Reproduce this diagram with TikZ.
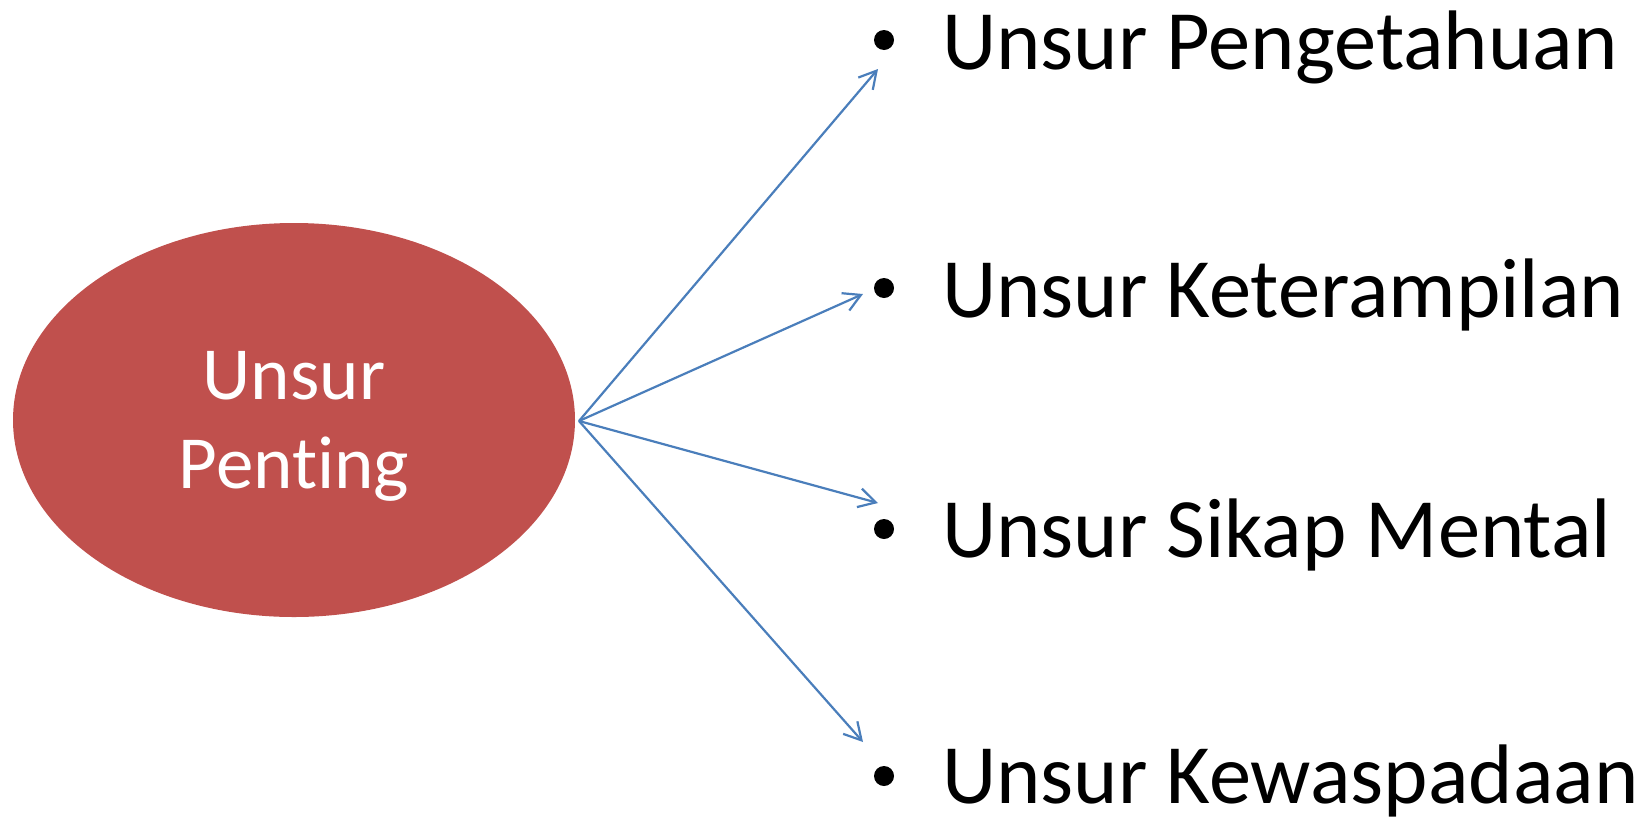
\documentclass[tikz,border=0pt]{standalone}
\usepackage{fontspec}
\setmainfont{Carlito}[Ligatures=NoCommon]
\usetikzlibrary{arrows.meta,shapes.geometric}
\definecolor{ovalred}{HTML}{C0504D}
\definecolor{arrowblue}{HTML}{4A7EBB}
\begin{document}
\begin{tikzpicture}[x=1pt,y=-1pt,
  item/.style={anchor=base west, inner sep=0pt, font=\fontsize{84.5}{98}\selectfont},
  dot/.style={circle, fill=black, inner sep=0pt, minimum size=20pt},
  oval/.style={ellipse, fill=ovalred, inner sep=0pt, minimum width=562pt, minimum height=394pt},
  ovaltext/.style={text=white, align=center, font=\fontsize{75}{89}\selectfont, yshift=-6pt},
  conn/.style={draw=arrowblue, line width=2.2pt, line join=round,
    -{Straight Barb[length=17pt,width=19pt,line width=2.2pt]}}]
\useasboundingbox (0,0) rectangle (1646,825);
\node[oval, label={[ovaltext]center:Unsur\\Penting}] (c) at (294,420) {};
\coordinate (hub) at (579,421);
\node[dot] (b1) at (884,40) {};
\node[dot] (b2) at (884,288) {};
\node[dot] (b3) at (884,529) {};
\node[dot] (b4) at (884,776) {};
\node[item] (l1) at (942,69) {Unsur Pengetahuan};
\node[item] (l2) at (942,317) {Unsur Keterampilan};
\node[item] (l3) at (942,557) {Unsur Sikap Mental};
\node[item] (l4) at (942,803) {Unsur Kewaspadaan};
\coordinate (t1) at (878,69);
\coordinate (t2) at (863,294);
\coordinate (t3) at (878,503);
\coordinate (t4) at (863,742);
\draw[conn] (hub) -- (t1);
\draw[conn] (hub) -- (t2);
\draw[conn] (hub) -- (t3);
\draw[conn] (hub) -- (t4);
\end{tikzpicture}
\end{document}
